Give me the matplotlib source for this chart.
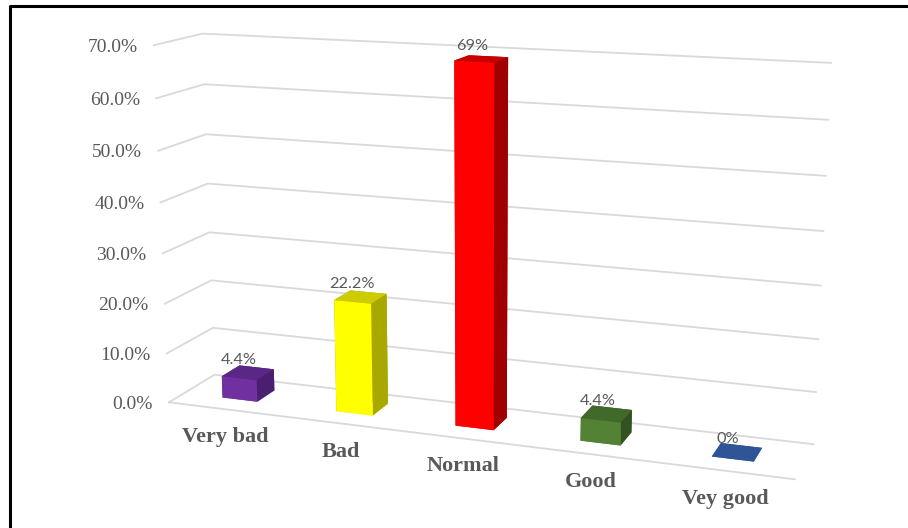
import numpy as np
import matplotlib
matplotlib.use("Agg")
import matplotlib.pyplot as plt
from matplotlib.lines import Line2D


categories = ["Very bad", "Bad", "Normal", "Good", "Vey good"]
values = [0.044, 0.222, 0.69, 0.044, 0.0]
value_labels = ["4.4%", "22.2%", "69%", "4.4%", "0%"]
tick_values = [0.0, 0.1, 0.2, 0.3, 0.4, 0.5, 0.6, 0.7]
tick_labels = ["0.0%", "10.0%", "20.0%", "30.0%", "40.0%", "50.0%", "60.0%", "70.0%"]

# front, top, right side colours per bar (excel-ish 3d shading)
front_colors = ["#7030A0", "#FFFF00", "#FF0000", "#548235", "#2F5597"]
top_colors = ["#5A2787", "#CCCC00", "#C80000", "#41692A", "#2F5597"]
side_colors = ["#4B1F70", "#A8A800", "#A00000", "#345220", "#2F5597"]

W, H = 908, 528
grid_color = "#d9d9d9"
text_color = "#595959"

# bar footprint inside each category slot / depth
bar_w = 0.31
d0, d1 = 0.33, 0.73


def to_pixels(ax, x, y, z):
    # 3d data point -> display pixels, using the axes' own projection
    v = ax.M @ np.array([x, y, z, 1.0])
    return ax.transData.transform((v[0] / v[3], v[1] / v[3]))


def label(fig, ax, x, y, z, s, dx, dy, **kw):
    px, py = to_pixels(ax, x, y, z)
    fig.text((px + dx) / W, (py + dy) / H, s, **kw)


def main():
    fig = plt.figure(figsize=(W / 100, H / 100), dpi=100)
    ax = fig.add_axes([0.10524, -0.18837, 0.82522, 1.41913], projection="3d", computed_zorder=False)
    n = len(categories)
    ax.set_xlim(0, n)
    ax.set_ylim(0, 1)
    ax.set_zlim(0, tick_values[-1])
    ax.set_axis_off()
    ax.view_init(elev=13.55, azim=-70.15, roll=0)
    ax.set_proj_type("persp", focal_length=0.447)
    ax.set_box_aspect((6.51, 1, 3.715))

    # side wall + back wall gridlines
    for z in tick_values:
        ax.plot([0, 0, n], [0, 1, 1], [z, z, z], color=grid_color, lw=1.3, zorder=1)
    ax.plot([0, n], [0, 0], [0, 0], color=grid_color, lw=1.3, zorder=1)

    # faces: -z, +z, -y (front), +y, -x, +x (right side)
    face_colors = []
    for i in range(n):
        face_colors += [front_colors[i], top_colors[i], front_colors[i],
                        side_colors[i], side_colors[i], side_colors[i]]
    xs = np.arange(n) + 0.5
    ax.bar3d(xs - bar_w / 2, [d0] * n, [0] * n, bar_w, d1 - d0, values,
             color=face_colors, shade=False, zorder=2)

    fig.canvas.draw()  # sets ax.M

    for z, lab in zip(tick_values, tick_labels):
        label(fig, ax, 0, 0, z, lab, -16, -2, ha="right", va="center", fontsize=14,
              color=text_color, family="Liberation Serif")

    for x, cat in zip(xs, categories):
        label(fig, ax, x, 0, 0, cat, 0, -28, ha="center", va="center", fontsize=16,
              fontweight="bold", color=text_color, family="Liberation Serif")

    for x, v, lab in zip(xs, values, value_labels):
        label(fig, ax, x, (d0 + d1) / 2, v, lab, -9, 13, ha="center", va="center",
              fontsize=11.8, color=text_color, family="Lato")

    # chart border (only top and left edges show in the crop)
    fig.add_artist(Line2D([10 / W, 10 / W, 1], [0, 1 - 6 / H, 1 - 6 / H],
                          transform=fig.transFigure, color="black", lw=2.2))

    fig.savefig("out.png", dpi=100)


if __name__ == "__main__":
    main()
